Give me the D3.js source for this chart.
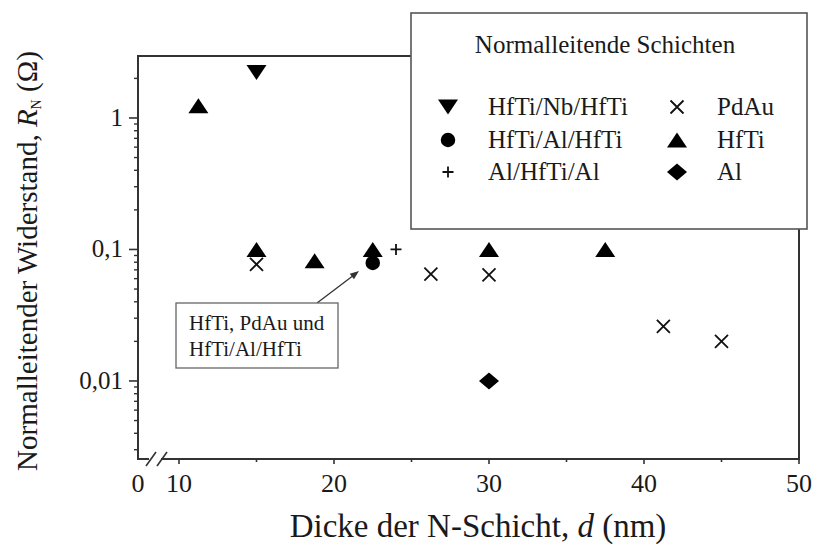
<!DOCTYPE html>
<html>
<head>
<meta charset="utf-8">
<script src="https://cdn.jsdelivr.net/npm/d3@7"></script>
<style>
  body { margin: 0; background: #fff; }
  svg text { font-family: "Liberation Serif", "Times New Roman", serif; fill: #1a1a1a; }
</style>
</head>
<body>
<div id="chart"></div>
<script>
// --- data ---
const hfTiNbHfTiX = [15];
const hfTiNbHfTiY = [2.22];
const hfTiAlHfTiX = [22.5];
const hfTiAlHfTiY = [0.079];
const alHfTiAlX = [24];
const alHfTiAlY = [0.1];
const pdAuX = [15, 26.25, 30, 41.25, 45];
const pdAuY = [0.077, 0.065, 0.064, 0.026, 0.02];
const hfTiX = [11.25, 15, 18.75, 22.5, 30, 37.5];
const hfTiY = [1.24, 0.1, 0.082, 0.1, 0.1, 0.1];
const alX = [30];
const alY = [0.01];

const xTicks = [0, 10, 20, 30, 40, 50];
const xMinorTicks = [15, 25, 35, 45];
const yTicks = [0.01, 0.1, 1];
const yTickLabels = ['0,01', '0,1', '1'];

const W = 818, H = 545;
const pLeft = 138, pRight = 799, pTop = 56, pBottom = 459;

const svg = d3.select('#chart').append('svg')
  .attr('width', W)
  .attr('height', H);

// x axis has a break between 0 and 10
const x = d3.scaleLinear()
  .domain([0, 10, 50])
  .range([pLeft, 179, pRight]);

const y = d3.scaleLog()
  .domain([0.00255, 2.96])
  .range([pBottom, pTop]);

// marker shapes (bbox-centred)
const shapes = {
  down: 'M-10,-7.5L10,-7.5L0,7.5Z',
  up: 'M0,-7.5L10,7.5L-10,7.5Z',
  circle: d3.symbol(d3.symbolCircle, 165)(),
  plus: 'M-5.5,0L5.5,0M0,-5.5L0,5.5',
  cross: 'M-6.5,-6.5L6.5,6.5M-6.5,6.5L6.5,-6.5',
  diamond: 'M0,-8.5L10,0L0,8.5L-10,0Z'
};

const series = [
  { name: 'HfTi/Nb/HfTi', shape: 'down', xs: hfTiNbHfTiX, ys: hfTiNbHfTiY, col: 0, row: 0 },
  { name: 'HfTi/Al/HfTi', shape: 'circle', xs: hfTiAlHfTiX, ys: hfTiAlHfTiY, col: 0, row: 1 },
  { name: 'Al/HfTi/Al', shape: 'plus', xs: alHfTiAlX, ys: alHfTiAlY, col: 0, row: 2 },
  { name: 'PdAu', shape: 'cross', xs: pdAuX, ys: pdAuY, col: 1, row: 0 },
  { name: 'HfTi', shape: 'up', xs: hfTiX, ys: hfTiY, col: 1, row: 1 },
  { name: 'Al', shape: 'diamond', xs: alX, ys: alY, col: 1, row: 2 }
];

function styleMarker(sel, shape) {
  const stroked = shape === 'plus' || shape === 'cross';
  sel.attr('fill', stroked ? 'none' : '#000')
    .attr('stroke', stroked ? '#111' : 'none')
    .attr('stroke-width', stroked ? 1.8 : 0);
}

// frame
const axisColor = '#333';
svg.append('line')
  .attr('x1', pLeft).attr('x2', pLeft).attr('y1', pTop).attr('y2', pBottom)
  .attr('stroke', axisColor).attr('stroke-width', 2);
svg.append('line')
  .attr('x1', pLeft - 1).attr('x2', pRight).attr('y1', pTop).attr('y2', pTop)
  .attr('stroke', axisColor).attr('stroke-width', 2);
svg.append('line')
  .attr('x1', pRight).attr('x2', pRight).attr('y1', pTop).attr('y2', pBottom + 1)
  .attr('stroke', axisColor).attr('stroke-width', 2);
// bottom axis with break
svg.append('line')
  .attr('x1', pLeft - 1).attr('x2', 149).attr('y1', pBottom).attr('y2', pBottom)
  .attr('stroke', axisColor).attr('stroke-width', 2);
svg.append('line')
  .attr('x1', 161).attr('x2', pRight).attr('y1', pBottom).attr('y2', pBottom)
  .attr('stroke', axisColor).attr('stroke-width', 2);
[151, 162].forEach(bx => {
  svg.append('line')
    .attr('x1', bx - 5).attr('y1', pBottom + 7)
    .attr('x2', bx + 5).attr('y2', pBottom - 7)
    .attr('stroke', axisColor).attr('stroke-width', 1.6);
});

// x ticks
svg.selectAll('.xt').data(xTicks.filter(d => d > 0)).join('line')
  .attr('x1', d => x(d)).attr('x2', d => x(d))
  .attr('y1', pBottom).attr('y2', pBottom + 5)
  .attr('stroke', axisColor).attr('stroke-width', 1.6);
svg.selectAll('.xm').data(xMinorTicks).join('line')
  .attr('x1', d => x(d)).attr('x2', d => x(d))
  .attr('y1', pBottom).attr('y2', pBottom + 3)
  .attr('stroke', axisColor).attr('stroke-width', 1.6);
svg.selectAll('.xl').data(xTicks).join('text')
  .attr('x', d => x(d))
  .attr('y', 492)
  .attr('text-anchor', 'middle')
  .attr('font-size', 26)
  .text(d => d);

// y ticks
const yMinor = [];
[0.001, 0.01, 0.1, 1].forEach(dec => {
  for (let k = 2; k <= 9; k++) {
    const v = dec * k;
    if (v >= y.domain()[0] && v <= y.domain()[1]) yMinor.push(v);
  }
});
svg.selectAll('.ym').data(yMinor).join('line')
  .attr('x1', pLeft - 4).attr('x2', pLeft)
  .attr('y1', d => y(d)).attr('y2', d => y(d))
  .attr('stroke', axisColor).attr('stroke-width', 1.4);
svg.selectAll('.yt').data(yTicks).join('line')
  .attr('x1', pLeft - 9).attr('x2', pLeft)
  .attr('y1', d => y(d)).attr('y2', d => y(d))
  .attr('stroke', axisColor).attr('stroke-width', 1.6);
svg.selectAll('.yl').data(yTicks).join('text')
  .attr('x', 123)
  .attr('y', d => y(d) + 8)
  .attr('text-anchor', 'end')
  .attr('font-size', 25)
  .text((d, i) => yTickLabels[i]);

// axis titles
svg.append('text')
  .attr('x', 478).attr('y', 537)
  .attr('text-anchor', 'middle')
  .attr('font-size', 33)
  .html('Dicke der N-Schicht, <tspan font-style="italic">d</tspan> (nm)');

const yTitle = svg.append('text')
  .attr('transform', 'translate(37,261) rotate(-90)')
  .attr('text-anchor', 'middle')
  .attr('font-size', 29);
yTitle.append('tspan').text('Normalleitender Widerstand, ');
yTitle.append('tspan').attr('font-style', 'italic').text('R');
yTitle.append('tspan').attr('font-size', 14).attr('dy', 4).text('N');
yTitle.append('tspan').attr('dy', -4).text(' (Ω)');

// data points
series.forEach(s => {
  const pts = s.xs.map((v, i) => [v, s.ys[i]]);
  svg.append('g').selectAll('path').data(pts).join('path')
    .attr('transform', d => `translate(${x(d[0])},${y(d[1])})`)
    .attr('d', shapes[s.shape])
    .call(styleMarker, s.shape);
});

// annotation
svg.append('line')
  .attr('x1', 317).attr('y1', 303)
  .attr('x2', 354).attr('y2', 275)
  .attr('stroke', '#333').attr('stroke-width', 1.3);
svg.append('path')
  .attr('d', 'M0,0L-9,-3.5L-9,3.5Z')
  .attr('transform', `translate(359,271) rotate(${Math.atan2(-28, 37) * 180 / Math.PI})`)
  .attr('fill', '#333');
svg.append('rect')
  .attr('x', 176).attr('y', 303).attr('width', 162).attr('height', 65)
  .attr('fill', '#fff').attr('stroke', '#666').attr('stroke-width', 1.3);
svg.append('text').attr('x', 189).attr('y', 330).attr('font-size', 21).text('HfTi, PdAu und');
svg.append('text').attr('x', 189).attr('y', 356).attr('font-size', 21).text('HfTi/Al/HfTi');

// legend
const lg = svg.append('g');
lg.append('rect')
  .attr('x', 411).attr('y', 13).attr('width', 396).attr('height', 216)
  .attr('fill', '#fff').attr('stroke', '#555').attr('stroke-width', 1.6);
lg.append('text')
  .attr('x', 605).attr('y', 53)
  .attr('text-anchor', 'middle')
  .attr('font-size', 25)
  .text('Normalleitende Schichten');
const colSym = [448, 677], colTxt = [488, 717], rowY = [107, 140, 172];
series.forEach(s => {
  lg.append('path')
    .attr('transform', `translate(${colSym[s.col]},${rowY[s.row]})`)
    .attr('d', shapes[s.shape])
    .call(styleMarker, s.shape);
  lg.append('text')
    .attr('x', colTxt[s.col]).attr('y', rowY[s.row] + 8)
    .attr('font-size', 25)
    .text(s.name);
});
</script>
</body>
</html>
